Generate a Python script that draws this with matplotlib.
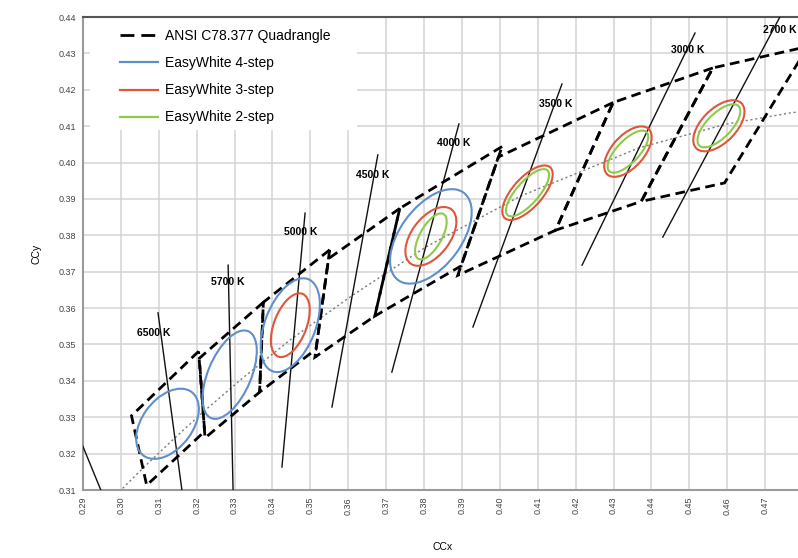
"""
EasyWhite bins vs ANSI C78.377 quadrangles (CIE 1931 chromaticity)
"""
import matplotlib
matplotlib.use("Agg")
import matplotlib.pyplot as plt
from matplotlib.patches import Ellipse, Rectangle, Polygon

plt.rcParams['font.family'] = ['Liberation Sans Narrow', 'Liberation Sans', 'DejaVu Sans']

# ANSI C78.377 quadrangle corners per nominal CCT
cct_names = ["2700 K", "3000 K", "3500 K", "4000 K", "4500 K", "5000 K", "5700 K", "6500 K"]
quad_x = [
    [0.4813, 0.4562, 0.4373, 0.4593],
    [0.4562, 0.4299, 0.4147, 0.4373],
    [0.4299, 0.3996, 0.3889, 0.4147],
    [0.4006, 0.3736, 0.3670, 0.3898],
    [0.3736, 0.3548, 0.3512, 0.3670],
    [0.3551, 0.3376, 0.3366, 0.3515],
    [0.3376, 0.3207, 0.3222, 0.3366],
    [0.3205, 0.3028, 0.3068, 0.3221],
]
quad_y = [
    [0.4319, 0.4260, 0.3893, 0.3944],
    [0.4260, 0.4165, 0.3814, 0.3893],
    [0.4165, 0.4015, 0.3690, 0.3814],
    [0.4044, 0.3874, 0.3578, 0.3716],
    [0.3874, 0.3736, 0.3465, 0.3578],
    [0.3760, 0.3616, 0.3369, 0.3487],
    [0.3616, 0.3462, 0.3243, 0.3369],
    [0.3481, 0.3304, 0.3113, 0.3261],
]
center_x = [0.4578, 0.4338, 0.4073, 0.3818, 0.3611, 0.3447, 0.3287, 0.3123]
center_y = [0.4101, 0.4030, 0.3917, 0.3797, 0.3658, 0.3553, 0.3417, 0.3282]

# isotherm lines (top end, bottom end) and label positions
iso_x0 = [0.4739, 0.4515, 0.4164, 0.3892, 0.3678, 0.3486, 0.3283, 0.3098, 0.2880]
iso_y0 = [0.4400, 0.4356, 0.4216, 0.4106, 0.4021, 0.3861, 0.3718, 0.3587, 0.3270]
iso_x1 = [0.4430, 0.4217, 0.3929, 0.3715, 0.3557, 0.3425, 0.3296, 0.3161, 0.2947]
iso_y1 = [0.3795, 0.3718, 0.3548, 0.3424, 0.3328, 0.3163, 0.3100, 0.3100, 0.3100]
label_x = [0.4739, 0.4496, 0.4148, 0.3879, 0.3665, 0.3475, 0.3283, 0.3087]
label_y = [0.4364, 0.4309, 0.4161, 0.4054, 0.3966, 0.3809, 0.3672, 0.3532]

# Planckian locus
locus_x = [0.2950, 0.3064, 0.3135, 0.3221, 0.3324, 0.3451, 0.3611, 0.3805,
           0.4053, 0.4369, 0.4599, 0.4770, 0.4862]
locus_y = [0.3048, 0.3166, 0.3236, 0.3318, 0.3410, 0.3516, 0.3635, 0.3768,
           0.3907, 0.4041, 0.4106, 0.4137, 0.4147]

# EasyWhite ellipses: index into CCT list, semi-axes a, b and tilt (deg)
step4_idx = [7, 6, 5, 3]
step4_a = [0.0108, 0.0129, 0.0135, 0.0148]
step4_b = [0.0067, 0.0057, 0.0067, 0.0081]
step4_ang = [55, 68, 70, 55]

step3_idx = [5, 3, 2, 1, 0]
step3_a = [0.0092, 0.0092, 0.0092, 0.0083, 0.0086]
step3_b = [0.0043, 0.0051, 0.0040, 0.0043, 0.0046]
step3_ang = [70, 55, 50, 50, 47]

step2_idx = [3, 2, 1, 0]
step2_a = [0.0070, 0.0081, 0.0073, 0.0075]
step2_b = [0.0029, 0.0030, 0.0030, 0.0033]
step2_ang = [62, 50, 48, 47]

x_ticks = [round(0.29 + 0.01 * i, 2) for i in range(19)]
y_ticks = [round(0.31 + 0.01 * i, 2) for i in range(14)]

blue = '#5f8fcb'
red = '#e0563c'
green = '#90c948'

fig = plt.figure(figsize=(7.98, 5.58), dpi=100)
ax = fig.add_axes([83 / 798, 68 / 558, 720 / 798, 473 / 558])
ax.set_xlim(0.29, 0.48)
ax.set_ylim(0.31, 0.44)
ax.set_axisbelow(True)

ax.set_xticks(x_ticks)
ax.set_xticklabels([f"{v:.2f}" for v in x_ticks], rotation=90)
ax.set_yticks(y_ticks)
ax.set_yticklabels([f"{v:.2f}" for v in y_ticks])
ax.tick_params(length=0, labelsize=6.5, labelcolor='#444444', pad=5)
ax.grid(True, color='#d4d4d4', linewidth=1.1)
ax.set_xlabel("CCx", fontsize=7.5, labelpad=20)
ax.set_ylabel("CCy", fontsize=7.5, labelpad=12)
for side in ['left', 'bottom']:
    ax.spines[side].set_color('#9a9a9a')
    ax.spines[side].set_linewidth(1.5)
ax.spines['top'].set_color('#555555')
ax.spines['top'].set_linewidth(1.5)
ax.spines['right'].set_visible(False)

# white box behind legend
ax.add_patch(Rectangle((0.0097, 0.761), 0.371, 0.239, transform=ax.transAxes,
                       facecolor='white', edgecolor='none', zorder=1))

# Planckian locus
ax.plot(locus_x, locus_y, color='#7a7a7a', linewidth=1.0, linestyle=(0, (1.5, 2)), zorder=2)

# isotherms
for i in range(len(iso_x0)):
    ax.plot([iso_x0[i], iso_x1[i]], [iso_y0[i], iso_y1[i]], color='#111111',
            linewidth=1.0, zorder=3)
for i, name in enumerate(cct_names):
    ax.text(label_x[i], label_y[i], name, fontsize=7.5, fontweight='bold',
            ha='center', va='center', zorder=6)

# quadrangles
for i in range(len(quad_x)):
    ax.add_patch(Polygon(list(zip(quad_x[i], quad_y[i])), closed=True, fill=False,
                         edgecolor='black', linewidth=2.0, linestyle=(0, (3.5, 2)),
                         zorder=4))

# ellipses
for idx, a, b, ang, col in ([(i, a, b, g, blue) for i, a, b, g in zip(step4_idx, step4_a, step4_b, step4_ang)]
                            + [(i, a, b, g, red) for i, a, b, g in zip(step3_idx, step3_a, step3_b, step3_ang)]
                            + [(i, a, b, g, green) for i, a, b, g in zip(step2_idx, step2_a, step2_b, step2_ang)]):
    ax.add_patch(Ellipse((center_x[idx], center_y[idx]), 2 * a, 2 * b, angle=ang,
                         fill=False, edgecolor=col, linewidth=1.5, zorder=5))

# legend
handles = [
    plt.Line2D([], [], color='black', linewidth=2.0, linestyle=(0, (5, 2.5))),
    plt.Line2D([], [], color=blue, linewidth=1.6),
    plt.Line2D([], [], color=red, linewidth=1.6),
    plt.Line2D([], [], color=green, linewidth=1.6),
]
labels = ["ANSI C78.377 Quadrangle", "EasyWhite 4-step", "EasyWhite 3-step", "EasyWhite 2-step"]
ax.legend(handles, labels, loc='upper left', bbox_to_anchor=(0.051, 0.974),
          frameon=False, fontsize=10, handlelength=2.75, handletextpad=0.5,
          labelspacing=0.94, borderpad=0, borderaxespad=0)

fig.savefig("out.png", dpi=100)
